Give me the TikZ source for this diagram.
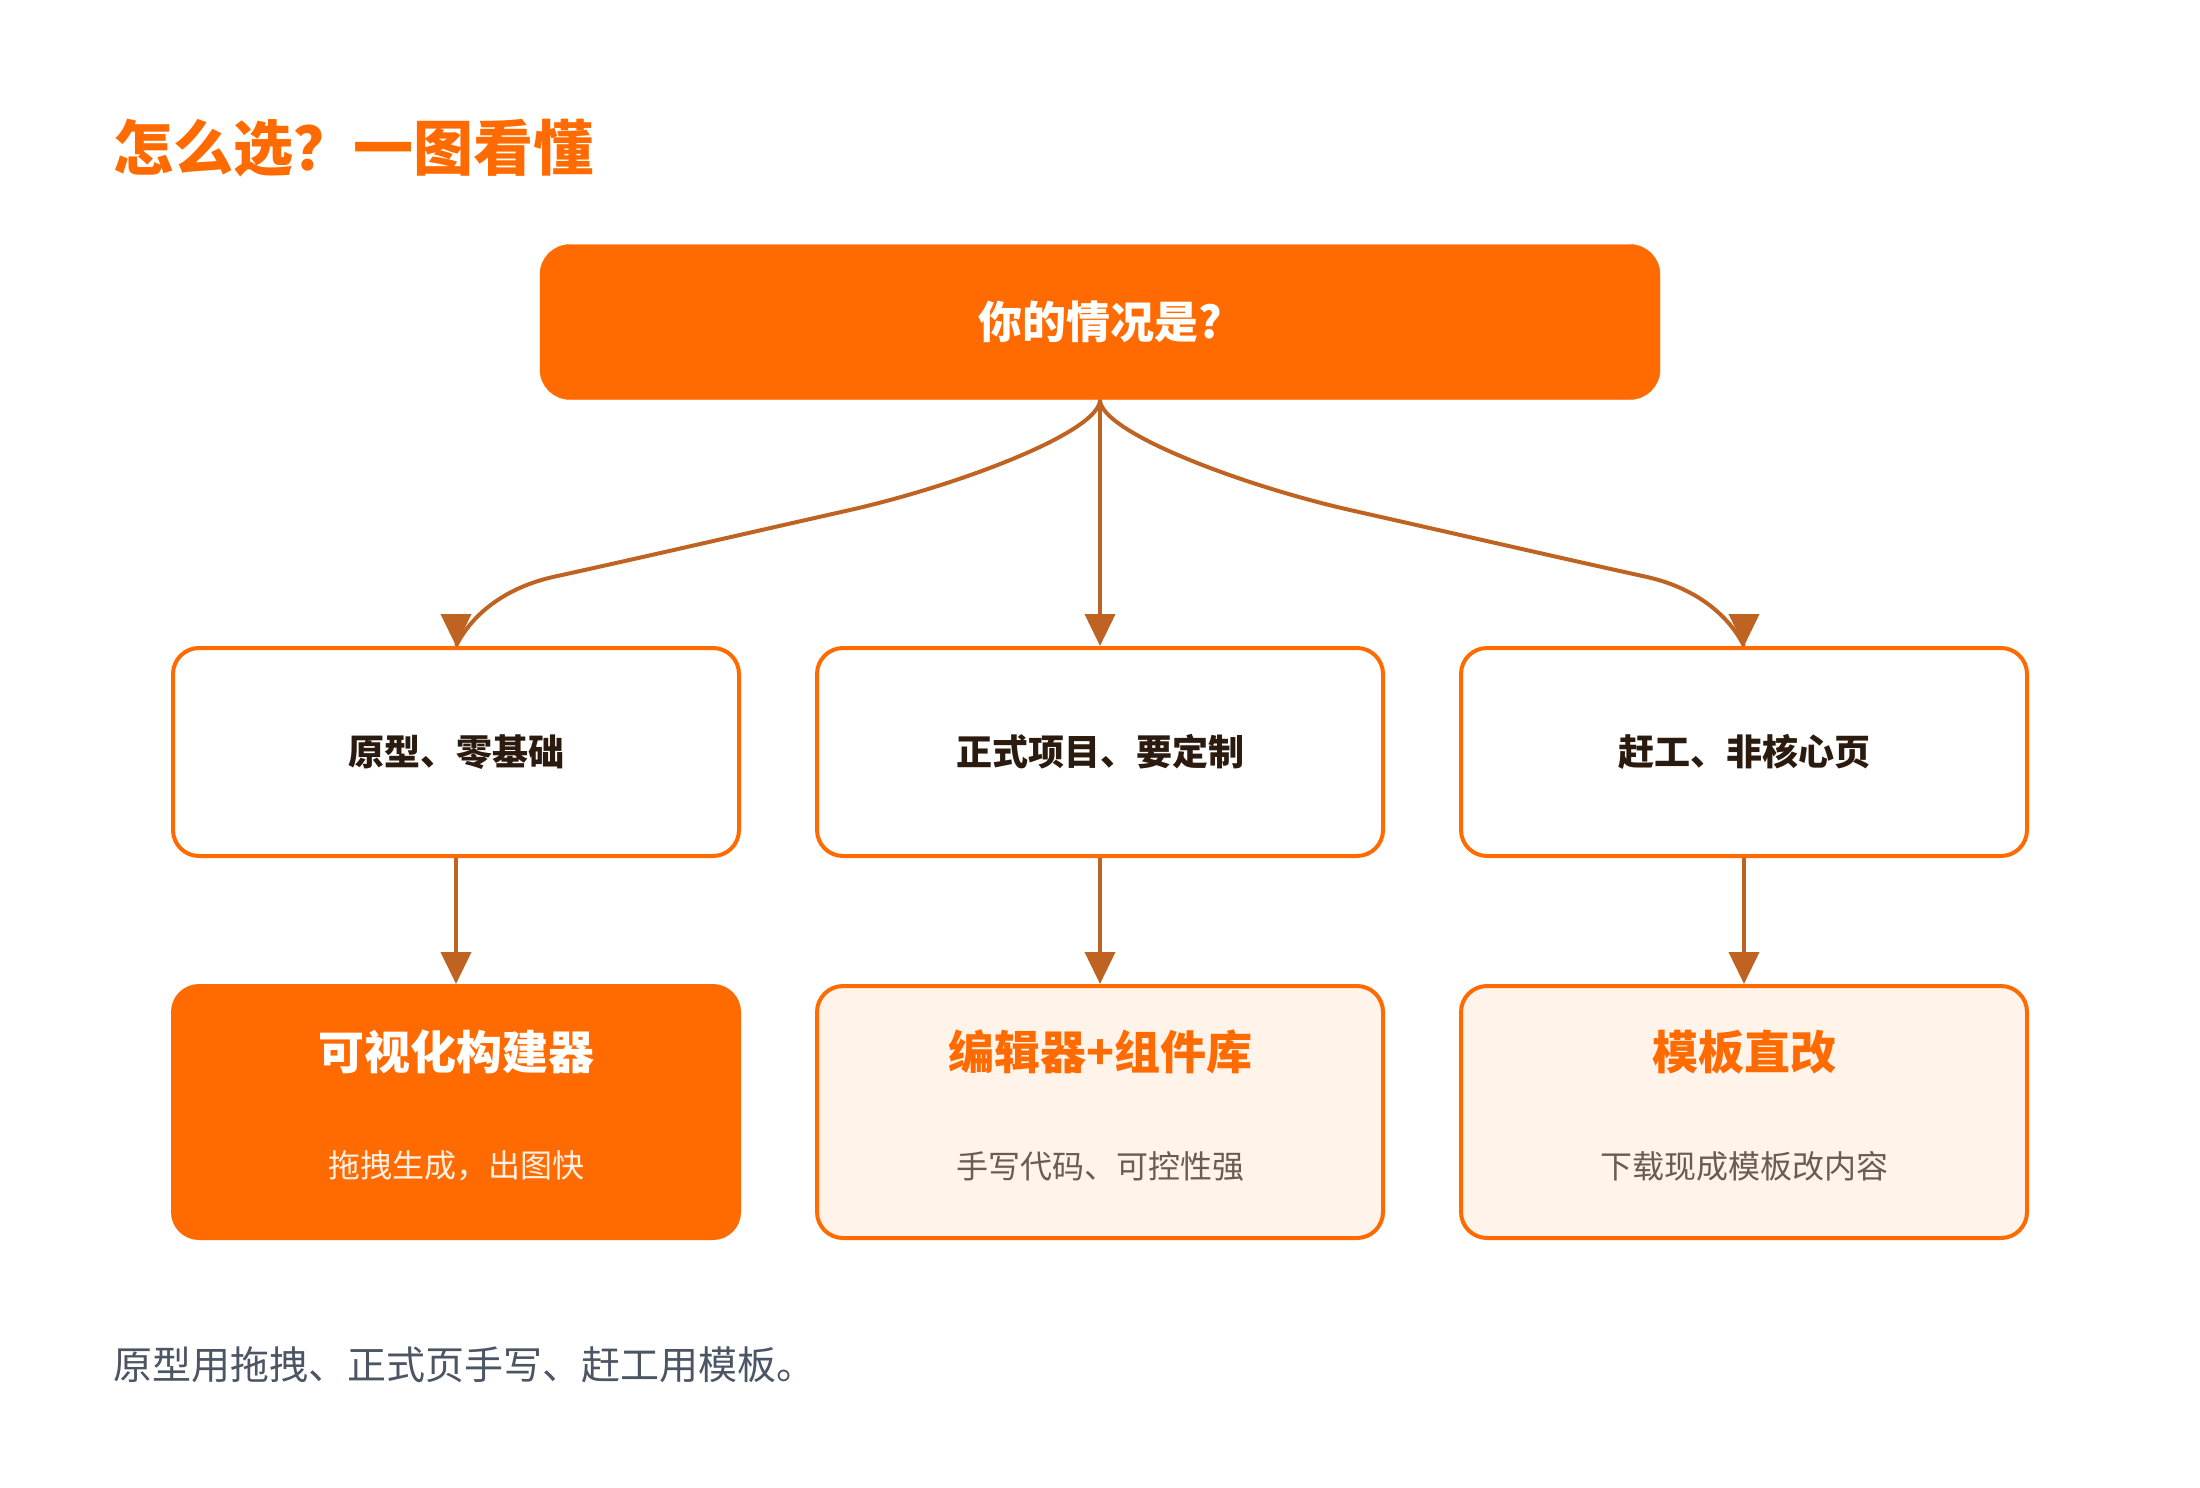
\documentclass[tikz,border=0pt]{standalone}
\usepackage{fontspec}
\setmainfont{Noto Sans CJK SC}
\usetikzlibrary{arrows.meta}
\definecolor{brand}{HTML}{FF6B00}
\definecolor{wire}{HTML}{BF6322}
\definecolor{paleorange}{HTML}{FFF3EA}
\definecolor{ink}{HTML}{2B1B0F}
\definecolor{subink}{HTML}{6B5B50}
\definecolor{noteink}{HTML}{4B5563}
\newcommand{\fs}[1]{\fontsize{#1}{#1}\selectfont}
\begin{document}
\begin{tikzpicture}[x=1pt,y=-1pt,
  ask/.style={fill=brand,draw=brand,rounded corners=30pt,minimum width=1120pt,minimum height=155pt,text=white,font=\fs{44}\bfseries},
  case/.style={draw=brand,fill=white,line width=4pt,rounded corners=26pt,minimum width=566pt,minimum height=208pt,text=ink,font=\fs{36}\bfseries},
  pick/.style={draw=brand,fill=paleorange,line width=4pt,rounded corners=26pt,minimum width=566pt,minimum height=252pt},
  picktitle/.style={text=brand,font=\fs{46}\bfseries},
  picksub/.style={text=subink,font=\fs{32}},
  wireline/.style={draw=wire,line width=4pt},
  link/.style={wireline,-{Triangle[width=30pt,length=32pt]}}]
  \useasboundingbox (0,0) rectangle (2200,1488);
  % heading
  \node[anchor=west,inner sep=0pt,text=brand,font=\fs{60}\bfseries] (head) at (113,148) {怎么选？一图看懂};
  % question
  \node[ask] (q) at (1100,322) {你的情况是?};
  % cases
  \node[case] (c1) at (456,752) {原型、零基础};
  \node[case] (c2) at (1100,752) {正式项目、要定制};
  \node[case] (c3) at (1744,752) {赶工、非核心页};
  % picks
  \node[pick,fill=brand] (p1) at (456,1112) {};
  \node[pick] (p2) at (1100,1112) {};
  \node[pick] (p3) at (1744,1112) {};
  \node[picktitle,text=white] (t1) at ([yshift=-68pt]p1.north) {可视化构建器};
  \node[picktitle] (t2) at ([yshift=-68pt]p2.north) {编辑器+组件库};
  \node[picktitle] (t3) at ([yshift=-68pt]p3.north) {模板直改};
  \node[picksub,text=white!90!brand] (s1) at ([yshift=-182pt]p1.north) {拖拽生成，出图快};
  \node[picksub] (s2) at ([yshift=-182pt]p2.north) {手写代码、可控性强};
  \node[picksub] (s3) at ([yshift=-182pt]p3.north) {下载现成模板改内容};
  % connectors
  \coordinate (l1) at (850,510);
  \coordinate (l2) at (553,577);
  \coordinate (r1) at (1350,510);
  \coordinate (r2) at (1647,577);
  \draw[wireline] (q.south) .. controls ([yshift=-32pt]q.south) and (960,485) .. (l1)
    .. controls (750,532.5) and (653,555) .. (l2)
    .. controls (503,588.3) and (471,616) .. (c1.north);
  \draw[wireline] (q.south) .. controls ([yshift=-32pt]q.south) and (1240,485) .. (r1)
    .. controls (1450,532.5) and (1547,555) .. (r2)
    .. controls (1697,588.3) and (1729,616) .. (c3.north);
  \draw[link] ([yshift=32pt]c1.north) -- (c1.north);
  \draw[link] (q.south) -- (c2.north);
  \draw[link] ([yshift=32pt]c3.north) -- (c3.north);
  \foreach \i in {1,2,3}
    \draw[link] (c\i.south) -- (p\i.north);
  % note
  \node[anchor=west,inner sep=0pt,text=noteink,font=\fs{39}] (note) at (113,1365) {原型用拖拽、正式页手写、赶工用模板。};
\end{tikzpicture}
\end{document}
